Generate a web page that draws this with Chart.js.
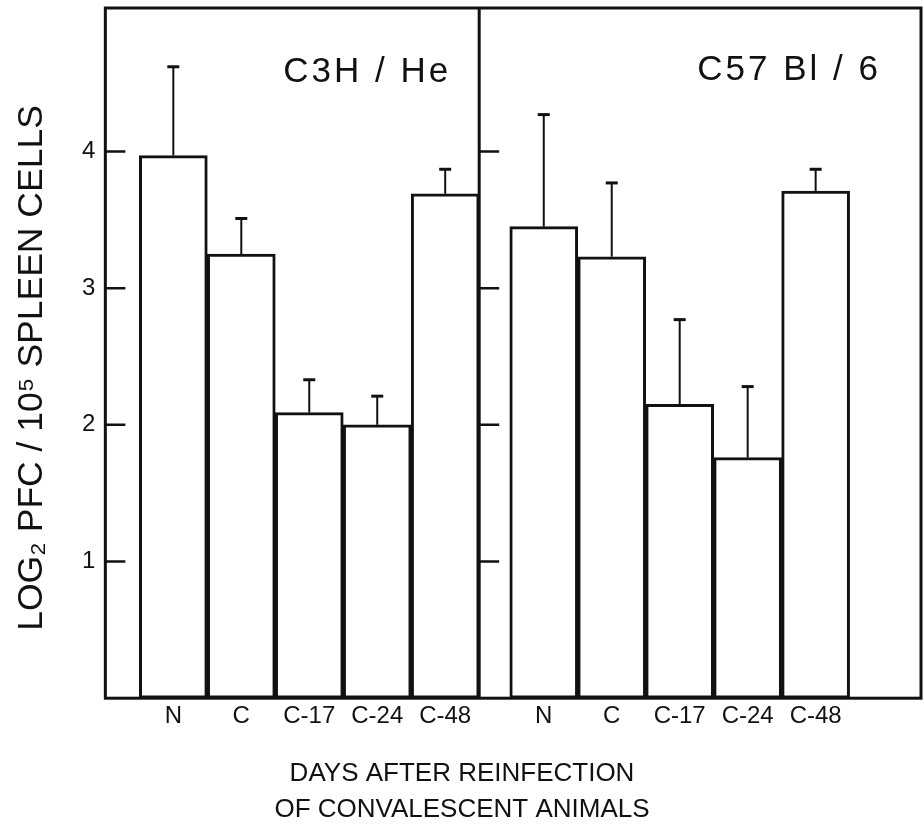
<!DOCTYPE html>
<html>
<head>
<meta charset="utf-8">
<script src="https://cdn.jsdelivr.net/npm/chart.js@4.4.1/dist/chart.umd.min.js"></script>
<style>
  html, body { margin: 0; padding: 0; background: #fff; }
  #wrap { width: 923px; height: 828px; position: relative; }
</style>
</head>
<body>
<div id="wrap"><canvas id="chart"></canvas></div>
<script>
// data
const categories = ['N', 'C', 'C-17', 'C-24', 'C-48'];
const strains = ['C3H / He', 'C57 Bl / 6'];
const c3hMeans = [3.97, 3.25, 2.09, 2.00, 3.69];
const c3hErrors = [0.65, 0.26, 0.24, 0.21, 0.18];
const c57Means = [3.45, 3.23, 2.15, 1.76, 3.71];
const c57Errors = [0.82, 0.54, 0.62, 0.52, 0.16];
const yTickLabels = [1, 2, 3, 4];
const yTitle = 'LOG\u2082 PFC / 10\u2075 SPLEEN CELLS';
const xTitle = ['DAYS AFTER REINFECTION', 'OF CONVALESCENT ANIMALS'];

const FONT = "'Liberation Sans', Arial, sans-serif";
const INK = '#111';

// panel layout on a linear x axis (one unit = one bar width)
const PANEL_START = [1, 6.45];
const DIVIDER = 5.5;
const X_MAX = 12;

const leftPoints = categories.map((c, i) => ({ x: PANEL_START[0] + i, y: c3hMeans[i] }));
const rightPoints = categories.map((c, i) => ({ x: PANEL_START[1] + i, y: c57Means[i] }));
const tickPositions = leftPoints.concat(rightPoints).map(p => p.x);

// no extra label padding around the plot box
function noEdgePadding(scale) {
    scale.paddingTop = 0;
    scale.paddingBottom = 0;
    scale.paddingLeft = 0;
    scale.paddingRight = 0;
}

// error bars (upper only)
const errorBars = {
    id: 'errorBars',
    afterDatasetsDraw(chart) {
        const ctx = chart.ctx;
        const yScale = chart.scales.y;
        const errs = [c3hErrors, c57Errors];
        const means = [c3hMeans, c57Means];
        ctx.save();
        ctx.strokeStyle = INK;
        chart.data.datasets.forEach((ds, d) => {
            const meta = chart.getDatasetMeta(d);
            meta.data.forEach((bar, i) => {
                const top = yScale.getPixelForValue(means[d][i] + errs[d][i]);
                ctx.lineWidth = 2;
                ctx.beginPath();
                ctx.moveTo(bar.x, bar.y);
                ctx.lineTo(bar.x, top);
                ctx.stroke();
                ctx.lineWidth = 3;
                ctx.beginPath();
                ctx.moveTo(bar.x - 6, top);
                ctx.lineTo(bar.x + 6, top);
                ctx.stroke();
            });
        });
        ctx.restore();
    }
};

// box frame, panel divider, inward ticks, strain names, axis titles
const frame = {
    id: 'frame',
    afterDraw(chart) {
        const ctx = chart.ctx;
        const a = chart.chartArea;
        const xScale = chart.scales.x;
        const yScale = chart.scales.y;
        const divX = xScale.getPixelForValue(DIVIDER);
        ctx.save();
        ctx.strokeStyle = INK;
        ctx.lineWidth = 3;
        ctx.strokeRect(a.left, a.top, a.right - a.left, a.bottom - a.top);
        ctx.beginPath();
        ctx.moveTo(divX, a.top);
        ctx.lineTo(divX, a.bottom);
        ctx.stroke();
        ctx.lineWidth = 2.5;
        yTickLabels.forEach(v => {
            const y = yScale.getPixelForValue(v);
            ctx.beginPath();
            ctx.moveTo(a.left, y);
            ctx.lineTo(a.left + 20, y);
            ctx.moveTo(divX, y);
            ctx.lineTo(divX + 20, y);
            ctx.stroke();
        });

        ctx.fillStyle = INK;
        ctx.font = '35px ' + FONT;
        ctx.letterSpacing = '3px';
        ctx.textAlign = 'right';
        ctx.textBaseline = 'alphabetic';
        ctx.fillText(strains[0], divX - 28, a.top + 74);
        ctx.fillText(strains[1], a.right - 40, a.top + 72);
        ctx.letterSpacing = '0px';

        // x title (two lines), centred under the figure
        ctx.textAlign = 'center';
        ctx.textBaseline = 'middle';
        ctx.font = '26px ' + FONT;
        ctx.fillText(xTitle[0], 462, a.bottom + 76);
        ctx.fillText(xTitle[1], 462, a.bottom + 112);

        // y title, rotated
        ctx.translate(32, 368);
        ctx.rotate(-Math.PI / 2);
        ctx.font = '35.5px ' + FONT;
        ctx.fillText(yTitle, 0, 0);
        ctx.restore();
    }
};

const ctx = document.getElementById('chart').getContext('2d');
new Chart(ctx, {
    type: 'bar',
    data: {
        datasets: [
            {
                label: strains[0],
                data: leftPoints,
                backgroundColor: '#fff',
                borderColor: INK,
                borderWidth: 3,
                borderSkipped: false,
                grouped: false,
                barPercentage: 1,
                categoryPercentage: 1
            },
            {
                label: strains[1],
                data: rightPoints,
                backgroundColor: '#fff',
                borderColor: INK,
                borderWidth: 3,
                borderSkipped: false,
                grouped: false,
                barPercentage: 1,
                categoryPercentage: 1
            }
        ]
    },
    options: {
        responsive: true,
        maintainAspectRatio: false,
        animation: false,
        layout: { padding: { top: 8, right: 2, bottom: 93, left: 72 } },
        plugins: {
            legend: { display: false },
            tooltip: { enabled: false }
        },
        scales: {
            x: {
                type: 'linear',
                min: 0,
                max: X_MAX,
                offset: false,
                grid: { display: false, offset: false, drawTicks: false },
                border: { display: false },
                afterBuildTicks: axis => { axis.ticks = tickPositions.map(v => ({ value: v })); },
                afterFit: noEdgePadding,
                ticks: {
                    autoSkip: false,
                    maxRotation: 0,
                    padding: 4,
                    color: INK,
                    font: { family: FONT, size: 24 },
                    callback: (value, index) => categories[index % categories.length]
                }
            },
            y: {
                min: 0,
                max: 5.05,
                grid: { display: false, drawTicks: false },
                border: { display: false },
                afterFit: noEdgePadding,
                ticks: {
                    stepSize: 1,
                    padding: 10,
                    color: INK,
                    font: { family: FONT, size: 24 },
                    callback: v => yTickLabels.includes(v) ? String(v) : null
                }
            }
        }
    },
    plugins: [errorBars, frame]
});
</script>
</body>
</html>
